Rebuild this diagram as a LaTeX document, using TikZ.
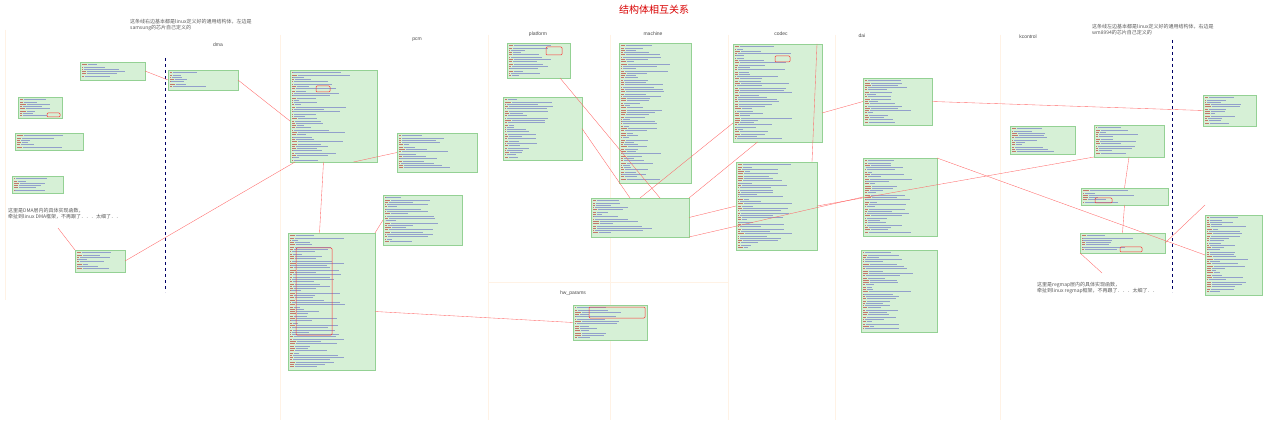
\documentclass[tikz,border=0pt]{standalone}
\usepackage{fontspec}
\setmainfont{Liberation Sans}
\newfontfamily\cjk{Noto Sans CJK SC}
\begin{document}
\begin{tikzpicture}[x=1pt,y=-1pt,
  cb/.style={draw=green!40!gray!60,fill=green!45!gray!22,line width=0.3pt,inner sep=0pt,outer sep=0pt},
  codeln/.style={draw=blue!50!gray,line width=0.45pt,opacity=0.45},
  kw/.style={draw=red!70!black,line width=0.45pt,opacity=0.5},
  link/.style={draw=red!60,line width=0.35pt},
  hl/.style={draw=red!80,line width=0.5pt,rounded corners=1pt},
  sec/.style={font=\fontsize{5}{6}\selectfont,text=black!70},
  note/.style={font=\cjk\fontsize{5}{6.5}\selectfont,text=black!65,align=left,anchor=north west,inner sep=0pt},
  sep/.style={draw=orange!10,line width=0.8pt}]
\useasboundingbox[fill=white] (0,0) rectangle (1280,422);
\pgfmathsetseed{7}
\newcommand\cbox[5]{%
 \node[cb,minimum width={(#4-#2)*1pt},minimum height={(#5-#3)*1pt}] (#1) at ({(#2+#4)/2},{(#3+#5)/2}) {};
 \pgfmathsetmacro\ya{#3+2.5}\pgfmathsetmacro\yb{#3+4.8}\pgfmathsetmacro\yc{#5-2}%
 \foreach \yy in {\ya,\yb,...,\yc}{%
   \pgfmathsetmacro\xa{#2+3+rnd*6}%
   \pgfmathsetmacro\xb{\xa+4+rnd*(#4-#2)*0.55}%
   \draw[kw] ({#2+2},\yy) -- ({\xa-1},\yy);
   \draw[codeln] (\xa,\yy) -- (\xb,\yy);}}
% separators
\foreach \sx in {280,488,610,728,835,1000}{\draw[sep] (\sx,35) -- (\sx,420);}
\draw[sep] (488,282) -- (728,282);
\draw[sep] (5,30) -- (5,300);
% title
\node[font=\cjk\fontsize{10}{12}\selectfont,text=red!85!black] (title) at (654,10) {结构体相互关系};
% section labels
\node[sec] (sdma) at (218,45) {dma};
\node[sec] (spcm) at (417,40) {pcm};
\node[sec] (splat) at (538,34) {platform};
\node[sec] (smach) at (653,34) {machine};
\node[sec] (scodec) at (781,34) {codec};
\node[sec] (sdai) at (862,36) {dai};
\node[sec] (skc) at (1028,37) {kcontrol};
\node[sec] (shw) at (573,293) {hw\_params};
% dashed dividers
\draw[dashed,line width=0.5pt,draw=blue!40!black] (165,58) -- (165,292);
\draw[dashed,line width=0.5pt,draw=blue!40!black] (1172,40) -- (1172,292);
% notes
\node[note] (n1) at (130,19) {这条线右边基本都是linux定义好的通用结构体，左边是\\samsung的芯片自己定义的};
\node[note] (n2) at (1092,24) {这条线左边基本都是linux定义好的通用结构体，右边是\\wm8994的芯片自己定义的};
\node[note] (n3) at (8,208) {这里是DMA层内的具体实现函数，\\牵扯到linux DMA框架，不再跟了．．．太细了．．};
\node[note] (n4) at (1037,282) {这里是regmap层内的具体实现函数，\\牵扯到linux regmap框架，不再跟了．．．太细了．．};
% boxes
\cbox{b1}{80}{62}{145}{80}
\cbox{b2}{168}{70}{238}{90}
\cbox{b3}{18}{97}{62}{118}
\cbox{b4}{15}{133}{83}{150}
\cbox{b5}{12}{176}{63}{193}
\cbox{b6}{75}{250}{125}{272}
\cbox{b7}{290}{70}{377}{162}
\cbox{b8}{397}{133}{477}{172}
\cbox{b9}{383}{195}{462}{245}
\cbox{b10}{288}{233}{375}{370}
\cbox{b11}{507}{43}{570}{78}
\cbox{b12}{503}{97}{582}{160}
\cbox{b13}{619}{43}{691}{183}
\cbox{b14}{591}{198}{689}{237}
\cbox{b15}{573}{305}{647}{340}
\cbox{b16}{733}{44}{822}{142}
\cbox{b17}{736}{162}{817}{250}
\cbox{b18}{863}{78}{932}{125}
\cbox{b19}{863}{158}{937}{236}
\cbox{b20}{861}{250}{937}{332}
\cbox{b21}{1010}{126}{1075}{154}
\cbox{b22}{1094}{125}{1164}{157}
\cbox{b23}{1081}{188}{1168}{205}
\cbox{b24}{1080}{233}{1165}{253}
\cbox{b25}{1203}{95}{1256}{126}
\cbox{b26}{1205}{215}{1262}{295}
% highlight rectangles
\draw[hl] (316,86) rectangle (330,92);
\draw[hl] (546,47) rectangle (562,55);
\draw[hl] (775,56) rectangle (790,62);
\draw[hl] (296,248) rectangle (332,335);
\draw[hl] (589,307) rectangle (645,318);
\draw[hl] (1120,247) rectangle (1142,252);
\draw[hl] (1095,198) rectangle (1112,203);
\draw[hl] (47,113) rectangle (60,117);
% connectors
\coordinate (k1) at (58,228);
\coordinate (k2) at (1102,273);
\draw[link] (b1.east) -- (b2.west);
\draw[link] (b2.east) -- ([yshift=-5pt]b7.west);
\draw[link] ([xshift=20pt]b7.south) -- (b8.west);
\draw[link] (b6.east) -- ([xshift=5pt]b7.south west);
\draw[link] (b6.north west) -- (k1);
\draw[link] ([xshift=-10pt]b7.south) -- ([xshift=-12pt]b10.north);
\draw[link] ([yshift=-10pt]b10.east) -- (b15.west);
\draw[link] (b10.north east) -- (b9.west);
\draw[link] ([xshift=-10pt]b11.south east) -- ([xshift=20pt]b14.north);
\draw[link] (b12.east) -- ([xshift=-10pt]b14.north);
\draw[link] ([xshift=-20pt]b16.south) -- (b14.north east);
\draw[link] ([yshift=-30pt]b16.west) -- (b14.north);
\draw[link] (b14.east) -- (b17.west);
\draw[link] (b18.west) -- ([yshift=-20pt]b16.east);
\draw[link] (b18.east) -- (b25.west);
\draw[link] ([xshift=-5pt]b16.north east) -- ([xshift=-5pt]b17.north east);
\draw[link] (b19.north east) -- (b26.west);
\draw[link] (b17.east) -- (b22.south west);
\draw[link] (b22.south) -- (b23.north);
\draw[link] (b23.south) -- (b24.north);
\draw[link] (b24.south west) -- (k2);
\draw[link] (b24.east) -- ([yshift=10pt]b26.north west);
\draw[link] (b14.south east) -- (b19.west);
\end{tikzpicture}
\end{document}
